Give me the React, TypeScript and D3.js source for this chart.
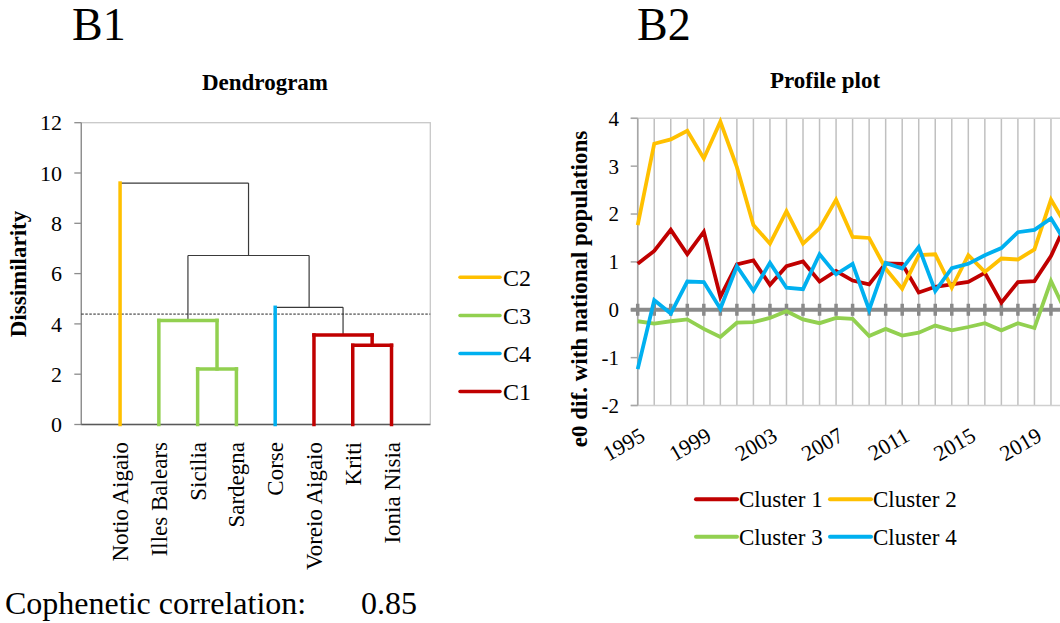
import React from "react";
import * as d3 from "d3";

// ---------- Dendrogram data ----------
const leaves = ["Notio Aigaio", "Illes Balears", "Sicilia", "Sardegna", "Corse", "Voreio Aigaio", "Kriti", "Ionia Nisia"];
const leafCluster = ["C2", "C3", "C3", "C3", "C4", "C1", "C1", "C1"];
// merges: node ids 0..7 are leaves, merge k gets id 8+k
const mergeLeft = [2, 6, 5, 1, 4, 11, 0];
const mergeRight = [3, 7, 9, 8, 10, 12, 13];
const mergeHeight = [2.21, 3.15, 3.56, 4.14, 4.66, 6.72, 9.6];
const cutHeight = 4.39;
const dendroTicks = [0, 2, 4, 6, 8, 10, 12];
const dendroLegend = ["C2", "C3", "C4", "C1"];
const clusterColor: Record<string, string> = { C1: "#C00000", C2: "#FFC000", C3: "#92D050", C4: "#00B0F0" };

// ---------- Profile plot data ----------
const years = [1995, 1996, 1997, 1998, 1999, 2000, 2001, 2002, 2003, 2004, 2005, 2006, 2007, 2008, 2009, 2010, 2011, 2012, 2013, 2014, 2015, 2016, 2017, 2018, 2019, 2020, 2021];
const yearLabels = [1995, 1999, 2003, 2007, 2011, 2015, 2019];
const cluster1 = [0.96, 1.23, 1.67, 1.16, 1.63, 0.27, 0.95, 1.03, 0.52, 0.91, 1.01, 0.59, 0.81, 0.61, 0.53, 0.97, 0.96, 0.36, 0.48, 0.53, 0.58, 0.77, 0.15, 0.58, 0.6, 1.12, 1.87];
const cluster2 = [1.77, 3.47, 3.56, 3.74, 3.16, 3.93, 2.98, 1.77, 1.38, 2.06, 1.38, 1.7, 2.3, 1.52, 1.5, 0.86, 0.44, 1.14, 1.16, 0.46, 1.14, 0.79, 1.07, 1.05, 1.26, 2.3, 1.71];
const cluster3 = [-0.24, -0.29, -0.24, -0.2, -0.4, -0.57, -0.27, -0.26, -0.17, -0.03, -0.2, -0.28, -0.17, -0.19, -0.55, -0.4, -0.54, -0.48, -0.33, -0.43, -0.36, -0.28, -0.43, -0.28, -0.38, 0.6, -0.12];
const cluster4 = [-1.24, 0.2, -0.08, 0.59, 0.58, 0.02, 0.91, 0.4, 0.98, 0.46, 0.43, 1.16, 0.74, 0.96, 0.0, 0.98, 0.86, 1.31, 0.39, 0.87, 0.96, 1.14, 1.29, 1.62, 1.67, 1.91, 1.34];
const profileTicks = [-2, -1, 0, 1, 2, 3, 4];
const seriesNames = ["Cluster 1", "Cluster 2", "Cluster 3", "Cluster 4"];
const seriesValues = [cluster1, cluster2, cluster3, cluster4];
const seriesColors = ["#C00000", "#FFC000", "#92D050", "#00B0F0"];

const FONT = "'Liberation Serif', 'Times New Roman', Times, serif";

function Dendrogram() {
  const x = d3.scaleLinear().domain([0, leaves.length + 1]).range([81.3, 430.3]);
  const y = d3.scaleLinear().domain([0, 12]).range([424.5, 122.7]);

  const n = leaves.length;
  const nodeX: number[] = [];
  const nodeH: number[] = [];
  const nodeCluster: (string | null)[] = [];
  const parent: number[] = [];
  leaves.forEach((_, i) => {
    nodeX[i] = x(i + 1);
    nodeH[i] = 0;
    nodeCluster[i] = leafCluster[i];
  });
  mergeHeight.forEach((h, k) => {
    const id = n + k;
    const a = mergeLeft[k];
    const b = mergeRight[k];
    nodeX[id] = (nodeX[a] + nodeX[b]) / 2;
    nodeH[id] = h;
    nodeCluster[id] = nodeCluster[a] && nodeCluster[a] === nodeCluster[b] ? nodeCluster[a] : null;
    parent[a] = id;
    parent[b] = id;
  });

  const grey = "#3a3a3a";
  const segs: { x1: number; y1: number; x2: number; y2: number; c: string | null }[] = [];
  mergeHeight.forEach((h, k) => {
    const id = n + k;
    segs.push({ x1: nodeX[mergeLeft[k]], x2: nodeX[mergeRight[k]], y1: y(h), y2: y(h), c: nodeCluster[id] });
  });
  for (let id = 0; id < n + mergeHeight.length - 1; id++) {
    const p = parent[id];
    const colored = id < n || nodeCluster[p] ? nodeCluster[id] : null;
    segs.push({ x1: nodeX[id], x2: nodeX[id], y1: y(nodeH[id]), y2: y(nodeH[p]), c: colored });
  }
  const greySegs = segs.filter((s) => !s.c);
  const colSegs = segs.filter((s) => s.c);

  const [x0, x1] = x.range();
  return (
    <g fontFamily={FONT}>
      <text x={72} y={40} fontSize={46}>B1</text>
      <text x={265} y={90} fontSize={23} fontWeight="bold" textAnchor="middle">Dendrogram</text>
      <rect x={x0} y={y(12)} width={x1 - x0} height={y(0) - y(12)} fill="none" stroke="#c8c8c8" strokeWidth={1.3} />
      <line x1={x0} x2={x0} y1={y(12)} y2={y(0)} stroke="#8c8c8c" strokeWidth={1.3} />
      {dendroTicks.map((t) => (
        <g key={t}>
          <line x1={x0 - 7} x2={x0} y1={y(t)} y2={y(t)} stroke="#8c8c8c" strokeWidth={1.3} />
          <text x={62} y={y(t)} dy="0.35em" fontSize={22} textAnchor="end">{t}</text>
        </g>
      ))}
      <line x1={x0} x2={x1} y1={y(0)} y2={y(0)} stroke="#595959" strokeWidth={1.5} />
      <text transform={`translate(26,${274}) rotate(-90)`} fontSize={23} fontWeight="bold" textAnchor="middle">Dissimilarity</text>
      {greySegs.map((s, i) => (
        <line key={"g" + i} x1={s.x1} x2={s.x2} y1={s.y1} y2={s.y2} stroke={grey} strokeWidth={1.2} />
      ))}
      <line x1={x0} x2={x1} y1={y(cutHeight)} y2={y(cutHeight)} stroke="#222" strokeWidth={1} strokeDasharray="2.5,1.5" />
      {colSegs.map((s, i) => (
        <line key={"c" + i} x1={s.x1} x2={s.x2} y1={s.y1} y2={s.y2} stroke={clusterColor[s.c as string]} strokeWidth={3.5} strokeLinecap="square" />
      ))}
      {leaves.map((l, i) => (
        <text key={l} transform={`translate(${x(i + 1)},442) rotate(-90)`} dy="0.35em" fontSize={23} textAnchor="end">{l}</text>
      ))}
      {dendroLegend.map((c, i) => (
        <g key={c} transform={`translate(0,${277.3 + i * 38.1})`}>
          <line x1={460} x2={500} y1={0} y2={0} stroke={clusterColor[c]} strokeWidth={3.5} strokeLinecap="round" />
          <text x={503} y={0} dy="0.35em" fontSize={24}>{c}</text>
        </g>
      ))}
      <text x={5} y={614} fontSize={32}>Cophenetic correlation:</text>
      <text x={361} y={614} fontSize={32}>0.85</text>
    </g>
  );
}

function Profile() {
  const x = d3.scaleLinear().domain([1995, 2021]).range([637.7, 1067.5]);
  const y = d3.scaleLinear().domain([-2, 4]).range([405.5, 118.3]);
  const line = d3
    .line<number>()
    .x((_, i) => x(years[i]))
    .y((d) => y(d));
  const [xl] = x.range();
  return (
    <g fontFamily={FONT}>
      <text x={637} y={40} fontSize={46}>B2</text>
      <text x={825} y={88} fontSize={23} fontWeight="bold" textAnchor="middle">Profile plot</text>
      {years.map((yr) => (
        <line key={yr} x1={x(yr)} x2={x(yr)} y1={y(4)} y2={y(-2)} stroke="#c0c0c0" strokeWidth={1.5} />
      ))}
      <line x1={xl - 7} x2={1060} y1={y(4)} y2={y(4)} stroke="#d0d0d0" strokeWidth={1.5} />
      <line x1={xl - 7} x2={1060} y1={y(-2)} y2={y(-2)} stroke="#d0d0d0" strokeWidth={1.5} />
      <line x1={xl} x2={xl} y1={y(4)} y2={y(-2)} stroke="#a6a6a6" strokeWidth={1.5} />
      {profileTicks.map((t) => (
        <g key={t}>
          <line x1={xl - 7} x2={xl} y1={y(t)} y2={y(t)} stroke="#a6a6a6" strokeWidth={1.5} />
          <text x={619} y={y(t)} dy="0.35em" fontSize={21} textAnchor="end">{t}</text>
        </g>
      ))}
      <line x1={xl - 7} x2={1067.5} y1={y(0)} y2={y(0)} stroke="#8a8a8a" strokeWidth={4} />
      {years.map((yr) => (
        <line key={"t" + yr} x1={x(yr)} x2={x(yr)} y1={y(0) - 6} y2={y(0) + 6} stroke="#8a8a8a" strokeWidth={3.5} />
      ))}
      {seriesValues.map((vals, i) => (
        <path key={seriesNames[i]} d={line(vals) as string} fill="none" stroke={seriesColors[i]} strokeWidth={3.8} strokeLinejoin="miter" />
      ))}
      {yearLabels.map((yr) => (
        <text key={yr} transform={`translate(${x(yr) + 1},${426}) rotate(-30)`} dy="0.72em" fontSize={22} textAnchor="end">{yr}</text>
      ))}
      <text transform={`translate(587,289) rotate(-90)`} fontSize={23} fontWeight="bold" textAnchor="middle">e0 dif. with national populations</text>
      {seriesNames.map((s, i) => {
        const col = i % 2;
        const row = Math.floor(i / 2);
        const lx = col === 0 ? 696 : 830;
        const ly = row === 0 ? 499.3 : 536.7;
        return (
          <g key={s}>
            <line x1={lx} x2={lx + 41} y1={ly} y2={ly} stroke={seriesColors[i]} strokeWidth={4} strokeLinecap="round" />
            <text x={lx + 43} y={ly} dy="0.35em" fontSize={23}>{s}</text>
          </g>
        );
      })}
    </g>
  );
}

export default function App() {
  return (
    <svg width={1060} height={623} style={{ position: "absolute", left: 0, top: 0, display: "block", background: "#fff" }}>
      <rect width={1060} height={623} fill="#fff" />
      <Dendrogram />
      <Profile />
    </svg>
  );
}
